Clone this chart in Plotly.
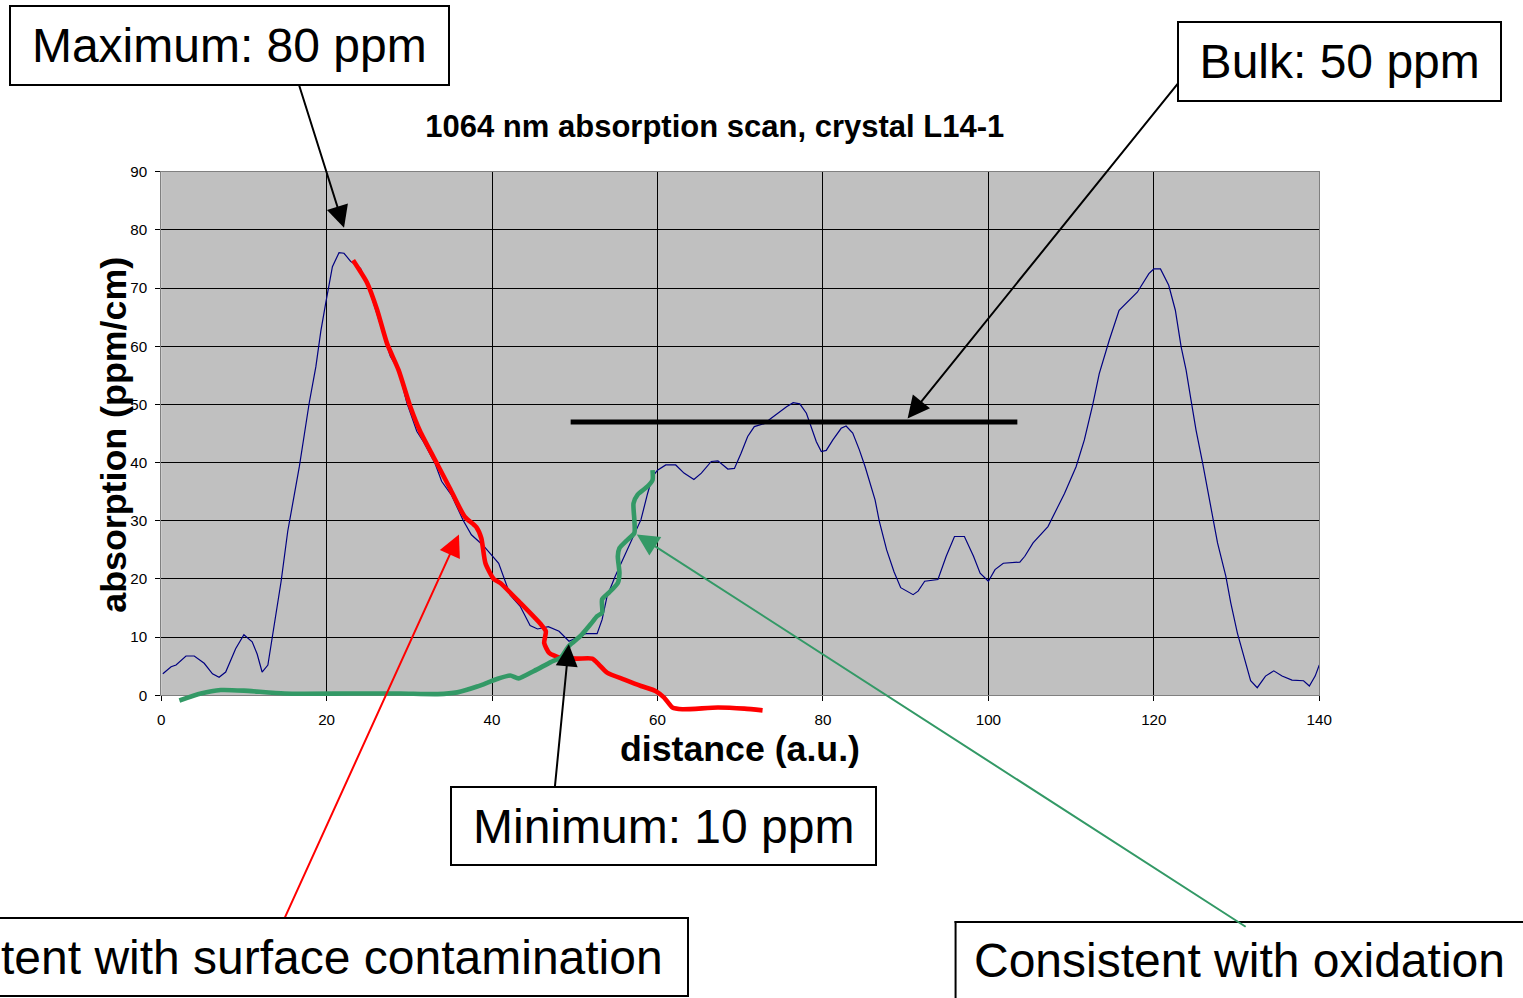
import plotly.graph_objects as go

# ---------------- data ----------------
scan_x = [0.2, 1.2, 1.8, 3.0, 4.0, 5.2, 6.2, 7.0, 7.8, 9.0, 10.0, 11.0, 11.6, 12.2, 12.9,
          13.7, 14.5, 15.3, 16.1, 16.7, 17.3, 17.9, 18.7, 19.3, 19.9, 20.7, 21.5, 22.1, 22.9,
          24.1, 25.1, 26.5, 27.7, 28.7, 29.7, 30.9, 31.7, 33.1, 33.9, 35.1, 36.5, 37.5, 38.9,
          40.8, 41.4, 42.2, 43.4, 44.6, 45.5, 46.8, 48.1, 49.3, 51.3, 52.7, 53.3, 53.9, 54.9,
          56.0, 57.0, 58.0, 58.8, 59.4, 60.0, 61.0, 62.2, 63.2, 64.4, 65.3, 66.5, 67.3, 68.5,
          69.3, 70.1, 70.9, 71.7, 72.9, 73.7, 74.7, 75.6, 76.4, 77.2, 78.0, 78.6, 79.2, 79.8,
          80.4, 81.2, 82.2, 82.8, 83.6, 84.4, 85.1, 86.3, 86.8, 87.7, 88.6, 89.4, 90.9, 91.5,
          92.3, 93.9, 94.9, 95.9, 97.1, 98.2, 99.0, 100.0, 100.8, 101.8, 103.8, 104.4, 105.4,
          107.2, 108.0, 109.2, 110.6, 111.6, 112.6, 113.4, 114.6, 115.8, 118.0, 119.4, 120.0,
          120.8, 121.8, 122.6, 123.3, 123.9, 124.5, 125.1, 125.9, 126.5, 127.1, 127.7, 128.7,
          129.3, 130.1, 130.9, 131.7, 132.5, 133.5, 134.5, 135.5, 136.7, 138.1, 138.8, 139.5,
          140.0]
scan_y = [3.7, 4.9, 5.2, 6.75, 6.75, 5.5, 3.7, 3.1, 4.0, 8.0, 10.4, 9.2, 7.1, 4.0, 5.2,
          12.3, 19.6, 28.2, 34.4, 39.3, 44.8, 50.3, 56.5, 62.6, 67.5, 73.7, 76.1, 76.0, 74.6,
          73.4, 70.0, 63.8, 58.3, 55.9, 50.3, 45.4, 43.6, 39.9, 36.8, 34.4, 30.1, 27.6, 25.8,
          22.7, 20.3, 17.2, 15.3, 12.0, 11.4, 11.8, 11.0, 9.3, 10.6, 10.6, 13.0, 17.0, 20.5,
          23.9, 27.3, 30.2, 34.7, 37.6, 38.7, 39.6, 39.6, 38.2, 37.1, 38.2, 40.2, 40.3, 38.9,
          39.0, 41.6, 44.5, 46.2, 46.7, 47.6, 48.7, 49.6, 50.3, 50.1, 48.5, 45.9, 43.6, 41.9,
          42.1, 43.9, 45.9, 46.3, 45.1, 42.2, 39.3, 33.6, 30.0, 25.0, 21.2, 18.5, 17.3, 17.9,
          19.6, 19.9, 23.9, 27.3, 27.3, 23.9, 21.0, 19.6, 21.6, 22.7, 22.9, 23.9, 26.2,
          29.0, 31.3, 34.7, 39.3, 43.9, 49.9, 55.3, 61.0, 66.2, 69.3, 72.5, 73.3,
          73.3, 70.5, 66.2, 59.9, 55.9, 50.7, 45.6, 39.9, 35.3, 30.2, 26.2, 20.5,
          15.9, 10.7, 6.7, 2.5, 1.3, 3.3, 4.2, 3.3, 2.6, 2.5, 1.6, 3.3,
          5.2]

# hand-drawn guide: surface contamination (red)
surface_x = [23.2, 24.9, 26.1, 27.3, 28.7, 30.1, 31.3, 33.1, 34.9, 36.7, 38.1, 38.7, 39.2,
             40.2, 41.0, 43.4, 45.9, 46.5, 46.3, 46.9, 48.1, 50.3, 52.1, 52.9, 53.9, 56.0,
             58.0, 59.8, 60.8, 61.8, 63.0, 67.3, 70.5, 72.7]
surface_y = [74.8, 70.9, 66.3, 60.5, 55.9, 49.7, 45.4, 40.5, 35.6, 30.7, 28.9, 27.0, 22.7,
             20.0, 19.3, 15.9, 12.2, 11.0, 9.0, 7.3, 6.5, 6.3, 6.3, 5.3, 3.9, 2.7,
             1.6, 0.7, -0.4, -2.1, -2.4, -2.1, -2.3, -2.6]

# hand-drawn guide: oxidation (green)
oxid_x = [2.2, 4.8, 7.2, 10.0, 14.9, 22.9, 28.9, 33.4, 35.8, 38.2, 40.6, 42.2, 43.2, 45.1,
          47.1, 48.3, 49.3, 50.7, 51.9, 52.7, 53.3, 53.3, 54.1, 55.2, 55.4, 55.2, 55.4, 56.2,
          57.2, 57.2, 57.1, 57.6, 58.8, 59.4, 59.4]
oxid_y = [-0.9, 0.3, 0.9, 0.8, 0.3, 0.3, 0.3, 0.2, 0.5, 1.5, 2.8, 3.4, 2.9, 4.2,
          5.7, 6.5, 8.5, 10.2, 12.2, 13.6, 14.2, 16.5, 17.6, 19.3, 21.0, 23.9, 25.3, 26.5,
          27.9, 30.2, 33.0, 34.5, 35.9, 37.0, 38.7]

# bulk level guide
bulk_x = [49.5, 103.5]
bulk_y = [47.0, 47.0]

x_ticks = [0, 20, 40, 60, 80, 100, 120, 140]
y_ticks = [0, 10, 20, 30, 40, 50, 60, 70, 80, 90]

# ---------------- geometry ----------------
W, H = 1523, 998
# observed mapping from figure pixels to the captured picture: pic = A + B * fig
AX, BX = 2.7, 0.9896
AY, BY = 9.0, 0.984


def fx(X):
    return (X - AX) / BX


def fy(Y):
    return (Y - AY) / BY


def px(X):
    return fx(X) / W


def py(Y):
    return 1 - fy(Y) / H


PX_L, PX_R, PX_T, PX_B = 160, 1319, 172, 696   # target picture pixels of plot area
X_MAX, Y_MAX = 140, 90
sxf = (fx(PX_R) - fx(PX_L)) / X_MAX
syf = (fy(PX_B) - fy(PX_T)) / Y_MAX
x2_range = [(0 - fx(PX_L)) / sxf, (W - fx(PX_L)) / sxf]
y2_range = [(fy(PX_B) - H) / syf, (fy(PX_B) - 0) / syf]

FONT = "Liberation Sans, Arial, sans-serif"
BOX_FS = 48

fig = go.Figure()
fig.add_trace(go.Scatter(x=scan_x, y=scan_y, mode="lines",
                         line=dict(color="#000080", width=1.2),
                         xaxis="x", yaxis="y", showlegend=False, hoverinfo="skip"))
fig.add_trace(go.Scatter(x=surface_x, y=surface_y, mode="lines",
                         line=dict(color="#FF0000", width=4.6, shape="spline", smoothing=0.6),
                         xaxis="x2", yaxis="y2", showlegend=False, hoverinfo="skip"))
fig.add_trace(go.Scatter(x=oxid_x, y=oxid_y, mode="lines",
                         line=dict(color="#339966", width=4.6, shape="spline", smoothing=0.6),
                         xaxis="x2", yaxis="y2", showlegend=False, hoverinfo="skip"))
fig.add_trace(go.Scatter(x=bulk_x, y=bulk_y, mode="lines",
                         line=dict(color="#000000", width=5),
                         xaxis="x2", yaxis="y2", showlegend=False, hoverinfo="skip"))

axis_common = dict(showgrid=True, gridcolor="#000000", gridwidth=1, zeroline=False,
                   showline=True, mirror=True, linecolor="#808080", linewidth=1,
                   ticks="outside", ticklen=5, tickcolor="#000000", tickwidth=1,
                   ticklabelstandoff=5,
                   tickfont=dict(family=FONT, size=15.2, color="#000000"))

fig.update_layout(
    width=W, height=H,
    margin=dict(l=0, r=0, t=0, b=0),
    paper_bgcolor="white",
    plot_bgcolor="rgba(0,0,0,0)",
    xaxis=dict(domain=[px(PX_L), px(PX_R)], range=[0, X_MAX], tickvals=x_ticks,
               anchor="y", **axis_common),
    yaxis=dict(domain=[py(PX_B), py(PX_T)], range=[0, Y_MAX], tickvals=y_ticks,
               anchor="x", **axis_common),
    xaxis2=dict(domain=[0, 1], range=x2_range, visible=False, anchor="y2"),
    yaxis2=dict(domain=[0, 1], range=y2_range, visible=False, anchor="x2"),
    title=dict(text="<b>1064 nm absorption scan, crystal L14-1</b>",
               font=dict(family=FONT, size=31, color="#000000"),
               x=px(714), y=py(126), xanchor="center", yanchor="middle",
               xref="paper", yref="paper"),
    showlegend=False,
)

shapes = [
    dict(type="rect", xref="x domain", yref="y domain", x0=0, x1=1, y0=0, y1=1,
         fillcolor="#C0C0C0", line=dict(width=0), layer="below"),
    # box around "Consistent with oxidation" (cut by the picture's right and bottom edges)
    dict(type="line", xref="paper", yref="paper", x0=px(954), x1=px(1526), y0=py(923), y1=py(923),
         line=dict(color="#000000", width=2)),
    dict(type="line", xref="paper", yref="paper", x0=px(955), x1=px(955), y0=py(922), y1=py(1001),
         line=dict(color="#000000", width=2)),
]
fig.update_layout(shapes=shapes)

annotations = []
# axis titles
annotations.append(dict(text="<b>distance (a.u.)</b>", x=px(739), y=py(750),
                        xref="paper", yref="paper", showarrow=False,
                        font=dict(family=FONT, size=35.7, color="#000000"),
                        xanchor="center", yanchor="middle"))
annotations.append(dict(text="<b>absorption (ppm/cm)</b>", x=px(112), y=py(435),
                        xref="paper", yref="paper", showarrow=False, textangle=-90,
                        font=dict(family=FONT, size=35.8, color="#000000"),
                        xanchor="center", yanchor="middle"))


def box(text, left, top, right, bottom):
    w = fx(right) - fx(left)
    h = fy(bottom) - fy(top)
    return dict(text=text, x=px((left + right) / 2), y=py((top + bottom) / 2),
                xref="paper", yref="paper", showarrow=False,
                xanchor="center", yanchor="middle",
                width=w - 4, height=h - 4, borderpad=0, borderwidth=2,
                bordercolor="#000000", bgcolor="white",
                font=dict(family=FONT, size=BOX_FS, color="#000000"))


def arrow(tail, tip, color):
    return dict(text="", x=px(tip[0]), y=py(tip[1]), xref="paper", yref="paper",
                ax=fx(tail[0]) - fx(tip[0]), ay=fy(tail[1]) - fy(tip[1]), showarrow=True,
                arrowhead=2, arrowsize=2.2, arrowwidth=2, arrowcolor=color, standoff=0)


annotations += [
    arrow((298, 86), (343, 228), "#000000"),
    arrow((1178, 85), (907, 419), "#000000"),
    arrow((554, 787), (568, 645), "#000000"),
    arrow((283, 918), (458, 535), "#FF0000"),
    arrow((1240, 922), (636, 535), "#339966"),
    box("Maximum: 80 ppm", 10, 6, 446, 86),
    box("Bulk: 50 ppm", 1178, 22, 1500, 102),
    box("Minimum: 10 ppm", 451, 787, 874, 866),
    box("Consistent with surface contamination", 683 - 852, 918, 683, 997),
    dict(text="Consistent with oxidation", x=px(1239), y=py(962),
         xref="paper", yref="paper", showarrow=False,
         xanchor="center", yanchor="middle",
         font=dict(family=FONT, size=BOX_FS, color="#000000")),
]
fig.update_layout(annotations=annotations)

fig.write_html("out.html")
